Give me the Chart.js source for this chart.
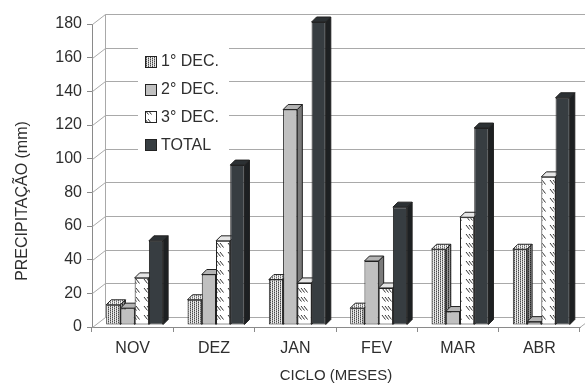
<!DOCTYPE html>
<html>
<head>
<meta charset="utf-8">
<script src="https://cdn.jsdelivr.net/npm/chart.js@4"></script>
<style>
  html, body { margin: 0; padding: 0; background: #fff; }
  canvas { display: block; }
</style>
</head>
<body>
<canvas id="c" width="585" height="385"></canvas>
<script>
// Rainfall per ten-day period (mm) over the crop cycle
const months = ['NOV', 'DEZ', 'JAN', 'FEV', 'MAR', 'ABR'];
const seriesNames = ['1° DEC.', '2° DEC.', '3° DEC.', 'TOTAL'];
const dec1 = [12, 15, 27, 10, 45, 45];
const dec2 = [10, 30, 128, 38, 8, 2];
const dec3 = [28, 50, 25, 22, 64, 88];
const total = [50, 95, 180, 70, 117, 135];
const yTicks = [0, 20, 40, 60, 80, 100, 120, 140, 160, 180];
const yTitle = 'PRECIPITAÇÃO (mm)';
const xTitle = 'CICLO (MESES)';

const FONT = 'Liberation Sans, Arial, sans-serif';
const TEXT = '#2e2e2e';
const WALL = { dx: 13, dy: 10 };   // depth of the back wall
const BAR = { dx: 5, dy: 5 };      // depth of each bar
const ROW = { dx: 2, dy: 2 };      // the bar row sits slightly behind the front edge
const OUTLINE = '#222';

const canvas = document.getElementById('c');
const mainCtx = canvas.getContext('2d');

function makePattern(w, h, paint) {
  const t = document.createElement('canvas');
  t.width = w; t.height = h;
  paint(t.getContext('2d'));
  return mainCtx.createPattern(t, 'repeat');
}
// dotted texture in vertical columns
function dots(light, mid, dark) {
  const cells = [
    [dark, light, mid, light],
    [mid, light, dark, light]
  ];
  return makePattern(4, 2, g => {
    cells.forEach((row, y) => row.forEach((c, x) => { g.fillStyle = c; g.fillRect(x, y, 1, 1); }));
  });
}
// short backslash strokes in rows
function hatch(bg, fg) {
  return makePattern(14, 9, g => {
    g.fillStyle = bg; g.fillRect(0, 0, 14, 9);
    g.strokeStyle = fg; g.lineWidth = 1;
    for (let k = 0; k < 3; k++) {
      g.beginPath();
      g.moveTo(2 + 3 * k, 2);
      g.lineTo(5.5 + 3 * k, 6.5);
      g.stroke();
    }
  });
}

const styles = [
  { front: dots('#ececec', '#9a9a9a', '#4a4a4a'), top: dots('#f4f4f4', '#b0b0b0', '#6a6a6a'), side: dots('#9a9a9a', '#5a5a5a', '#2a2a2a') },
  { front: '#c0c0c0', top: '#b4b4b4', side: '#7a7a7a' },
  { front: hatch('#ffffff', '#333333'), top: '#e6e6e6', side: '#6e6e6e' },
  { front: '#373d41', top: '#2c3134', side: '#1d2022' }
];
const values = [dec1, dec2, dec3, total];

function poly(ctx, pts, fill) {
  ctx.beginPath();
  ctx.moveTo(pts[0][0], pts[0][1]);
  for (let i = 1; i < pts.length; i++) ctx.lineTo(pts[i][0], pts[i][1]);
  ctx.closePath();
  ctx.fillStyle = fill;
  ctx.fill();
  ctx.stroke();
}

function line(ctx, x1, y1, x2, y2) {
  ctx.beginPath();
  ctx.moveTo(x1, y1);
  ctx.lineTo(x2, y2);
  ctx.stroke();
}

// Back wall, side wall and floor, then the bars with their top and side faces
const box3d = {
  id: 'box3d',
  beforeDatasetsDraw(chart) {
    const { ctx, chartArea: a, scales: { x, y } } = chart;
    ctx.save();
    ctx.strokeStyle = '#a9a9a9';
    ctx.lineWidth = 1;
    const L = a.left + 0.5, R = a.right;
    y.ticks.forEach(t => {
      const py = Math.round(y.getPixelForValue(t.value)) + 0.5;
      line(ctx, L, py, L + WALL.dx, py - WALL.dy);
      line(ctx, L + WALL.dx, py - WALL.dy, R + WALL.dx, py - WALL.dy);
    });
    const top = Math.round(y.getPixelForValue(y.max)) + 0.5;
    const bot = Math.round(y.getPixelForValue(0)) + 0.5;
    line(ctx, L + WALL.dx, top - WALL.dy, L + WALL.dx, bot - WALL.dy);
    line(ctx, R, bot, R + WALL.dx, bot - WALL.dy);
    ctx.restore();

    const metas = chart.getSortedVisibleDatasetMetas().slice().sort((p, q) => p.index - q.index);
    ctx.save();
    ctx.translate(ROW.dx, -ROW.dy);
    for (let i = 0; i < months.length; i++) {
      metas.forEach(m => {
        const el = m.data[i];
        const st = styles[m.index];
        el.draw(ctx);
        const p = el.getProps(['x', 'y', 'width', 'base'], true);
        const l = p.x - p.width / 2, r = p.x + p.width / 2;
        const t = Math.min(p.y, p.base), b = Math.max(p.y, p.base);
        ctx.save();
        ctx.lineWidth = 1;
        ctx.strokeStyle = OUTLINE;
        ctx.lineJoin = 'round';
        poly(ctx, [[l, t], [l + BAR.dx, t - BAR.dy], [r + BAR.dx, t - BAR.dy], [r, t]], st.top);
        poly(ctx, [[r, t], [r + BAR.dx, t - BAR.dy], [r + BAR.dx, b - BAR.dy], [r, b]], st.side);
        ctx.restore();
      });
    }
    ctx.restore();
    return false;
  },
  afterDraw(chart) {
    const { ctx, chartArea: a, data } = chart;
    ctx.save();
    // legend panel inside the plot
    const lx = a.left + 46, ly = a.top + 18;
    ctx.fillStyle = '#fff';
    ctx.fillRect(lx, ly, 91, 116);
    ctx.font = '16px ' + FONT;
    ctx.textBaseline = 'middle';
    ctx.textAlign = 'left';
    data.datasets.forEach((ds, i) => {
      const cy = ly + 19 + i * 27.7;
      ctx.fillStyle = ds.backgroundColor;
      ctx.strokeStyle = OUTLINE;
      ctx.lineWidth = 1;
      ctx.fillRect(lx + 7.5, Math.round(cy - 5) + 0.5, 11, 11);
      ctx.strokeRect(lx + 7.5, Math.round(cy - 5) + 0.5, 11, 11);
      ctx.fillStyle = TEXT;
      ctx.fillText(ds.label, lx + 23, cy + 1);
    });
    // vertical axis title
    ctx.translate(22, 201);
    ctx.rotate(-Math.PI / 2);
    ctx.textAlign = 'center';
    ctx.font = '16px ' + FONT;
    ctx.fillStyle = TEXT;
    ctx.fillText(yTitle, 0, 1);
    ctx.restore();
  }
};

new Chart(canvas, {
  type: 'bar',
  data: {
    labels: months,
    datasets: seriesNames.map((name, i) => ({
      label: name,
      data: values[i],
      backgroundColor: styles[i].front,
      borderColor: OUTLINE,
      borderWidth: 1,
      borderSkipped: false
    }))
  },
  options: {
    responsive: false,
    animation: false,
    devicePixelRatio: 1,
    layout: { padding: { top: 24, right: 5, left: 0, bottom: 0 } },
    plugins: { legend: { display: false }, tooltip: { enabled: false } },
    datasets: { bar: { categoryPercentage: 0.70, barPercentage: 1 } },
    scales: {
      x: {
        grid: { drawOnChartArea: false, tickLength: 5, color: '#8a8a8a' },
        border: { color: '#8a8a8a' },
        ticks: { font: { family: FONT, size: 16 }, color: TEXT, padding: 7, maxRotation: 0 },
        title: { display: true, text: xTitle, font: { family: FONT, size: 15 }, color: TEXT, padding: { top: 0, bottom: 0 } },
        afterFit(s) { s.height = 58; }
      },
      y: {
        min: 0,
        max: 180,
        afterBuildTicks(s) { s.ticks = yTicks.map(v => ({ value: v })); },
        grid: { drawOnChartArea: false, tickLength: 5, color: '#8a8a8a' },
        border: { color: '#8a8a8a' },
        ticks: { font: { family: FONT, size: 16 }, color: TEXT, padding: 5 },
        afterFit(s) { s.width = 92; }
      }
    }
  },
  plugins: [box3d]
});
</script>
</body>
</html>
